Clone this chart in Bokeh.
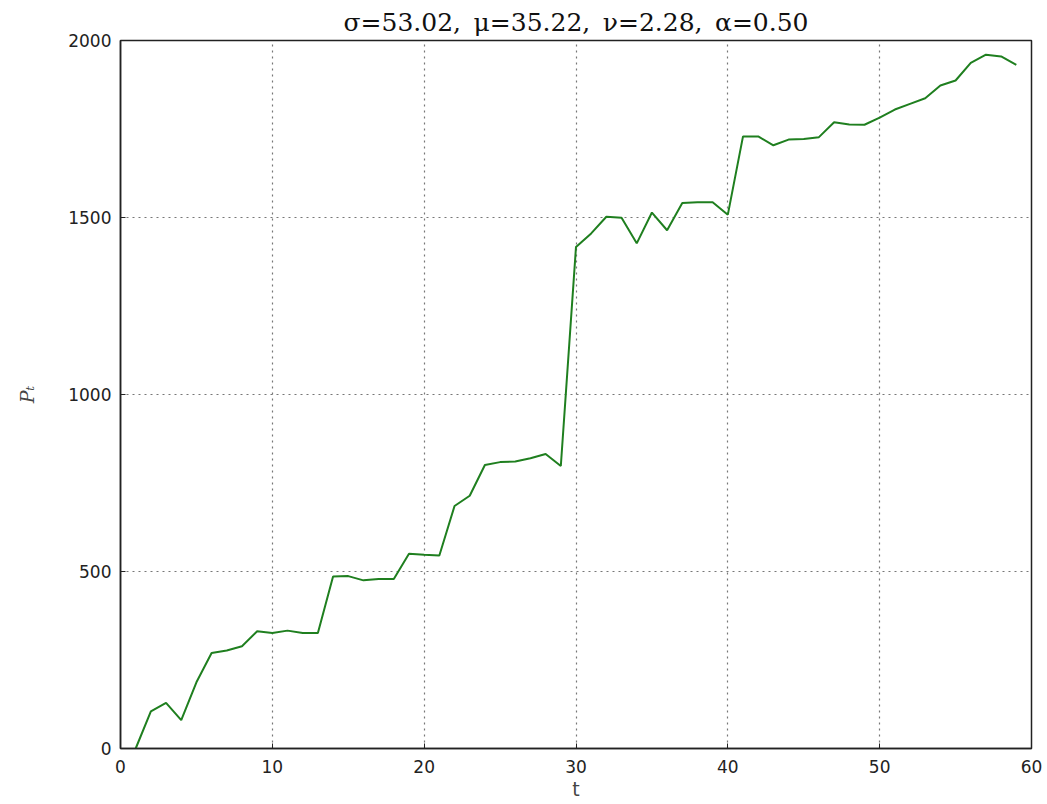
from bokeh.plotting import figure
from bokeh.models import ColumnDataSource, Range1d, FixedTicker
from bokeh.embed import file_html
from bokeh.resources import INLINE

# data
t = list(range(1, 60))
P = [0, 105, 129, 80, 187, 270, 277, 289, 331, 326,
     333, 326, 326, 486, 487, 475, 479, 479, 550, 547,
     545, 685, 714, 801, 809, 811, 820, 832, 798, 1417,
     1455, 1502, 1499, 1427, 1514, 1464, 1541, 1543, 1543, 1508,
     1729, 1729, 1704, 1720, 1722, 1727, 1769, 1763, 1762, 1782,
     1805, 1821, 1837, 1873, 1887, 1937, 1960, 1955, 1931]
x_ticks = [0, 10, 20, 30, 40, 50, 60]
y_ticks = [0, 500, 1000, 1500, 2000]
title_text = "\u03c3=53.02,\u2002\u03bc=35.22,\u2002\u03bd=2.28,\u2002\u03b1=0.50"

src = ColumnDataSource(data=dict(t=t, P=P))

p = figure(width=1045, height=803, output_backend="svg", toolbar_location=None,
           x_range=Range1d(0, 60), y_range=Range1d(0, 2000),
           min_border_left=120, min_border_right=14, min_border_top=40,
           min_border_bottom=55, title=title_text)

p.line("t", "P", source=src, line_color="#1f7f1f", line_width=2)

p.title.align = "center"
p.title.text_font = "DejaVu Serif"
p.title.text_font_size = "25px"
p.title.text_font_style = "normal"
p.title.text_color = "#111111"
p.title.standoff = 7

p.outline_line_color = "#222222"
p.outline_line_width = 1.5
p.outline_line_alpha = 1.0
p.background_fill_color = "white"
p.border_fill_color = "white"

p.xaxis.ticker = FixedTicker(ticks=x_ticks)
p.yaxis.ticker = FixedTicker(ticks=y_ticks)
for ax in (p.xaxis, p.yaxis):
    ax.axis_line_color = "#222222"
    ax.axis_line_width = 1.5
    ax.major_tick_in = 5
    ax.major_tick_out = 0
    ax.major_tick_line_color = "#222222"
    ax.minor_tick_line_color = None
    ax.major_label_text_font = "DejaVu Sans"
    ax.major_label_text_font_size = "17px"
    ax.major_label_text_color = "#222222"
p.xaxis.major_label_standoff = 11
p.yaxis.major_label_standoff = 9

p.xaxis.axis_label = "t"
p.xaxis.axis_label_text_font = "DejaVu Sans"
p.xaxis.axis_label_text_font_style = "normal"
p.xaxis.axis_label_text_font_size = "19px"
p.xaxis.axis_label_standoff = 2

p.yaxis.axis_label = "P\u209c"
p.yaxis.axis_label_text_font = "DejaVu Serif"
p.yaxis.axis_label_text_font_style = "italic"
p.yaxis.axis_label_text_font_size = "19px"
p.yaxis.axis_label_standoff = 27

p.xgrid.ticker = FixedTicker(ticks=x_ticks)
p.ygrid.ticker = FixedTicker(ticks=y_ticks)
for g in (p.xgrid, p.ygrid):
    g.grid_line_color = "#777777"
    g.grid_line_dash = "2 4"
    g.grid_line_width = 1.2

open("out.html", "w").write(file_html(p, INLINE))
